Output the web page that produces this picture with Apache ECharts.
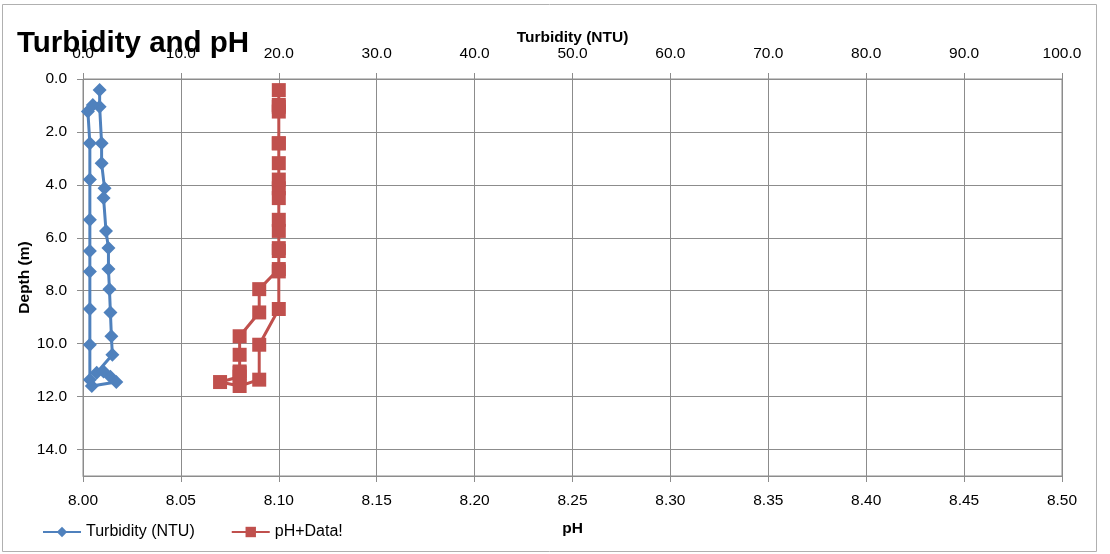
<!DOCTYPE html>
<html>
<head>
<meta charset="utf-8">
<script src="https://cdn.jsdelivr.net/npm/echarts@6/dist/echarts.min.js"></script>
<style>
html,body{margin:0;padding:0;background:#fff;}
#chart{width:1110px;height:554px;}
</style>
</head>
<body>
<div id="chart"></div>
<script>
// Data (row order as recorded: down-cast then up-cast)
const depth = [0.42, 1.05, 2.43, 3.18, 4.13, 4.5, 5.74, 6.39, 7.18, 7.94, 8.82, 9.72, 10.42, 11.1, 11.05, 11.25, 11.45, 11.6, 11.36, 10.04, 8.69, 7.27, 6.5, 5.32, 3.8, 2.43, 1.23, 0.98];
const turbidity = [1.7, 1.7, 1.9, 1.9, 2.2, 2.1, 2.35, 2.6, 2.6, 2.7, 2.8, 2.9, 3.0, 1.4, 2.1, 2.8, 3.4, 0.9, 0.7, 0.7, 0.7, 0.7, 0.7, 0.7, 0.7, 0.7, 0.5, 1.0];
const ph = [8.10, 8.10, 8.10, 8.10, 8.10, 8.10, 8.10, 8.10, 8.10, 8.09, 8.09, 8.08, 8.08, 8.08, 8.08, 8.08, 8.07, 8.08, 8.09, 8.09, 8.10, 8.10, 8.10, 8.10, 8.10, 8.10, 8.10, 8.10];

const titleText = 'Turbidity and pH';
const turbName = 'Turbidity (NTU)';
const phName = 'pH+Data!';
const phAxisName = 'pH';
const depthName = 'Depth (m)';

const FONT = '"Liberation Sans", Arial, sans-serif';
const gridColor = '#8c8c8c';

const chart = echarts.init(document.getElementById('chart'), null, {renderer: 'canvas'});
const lbl = {color: '#000', fontSize: 15.5, fontFamily: FONT};
const nameStyle = {fontFamily: FONT, fontWeight: 'bold', fontSize: 15.5, color: '#000'};

chart.setOption({
  animation: false,
  backgroundColor: '#fff',
  graphic: [{
    type: 'rect', shape: {x: 2.5, y: 4.5, width: 1094, height: 547},
    style: {fill: 'none', stroke: '#b0b0b0', lineWidth: 1}, z: -1
  }],
  title: {
    text: titleText, left: 12, top: 24, z: 10,
    textStyle: {fontFamily: FONT, fontWeight: 'bold', fontSize: 29.5, color: '#000'}
  },
  legend: {
    left: 37, top: 519, itemWidth: 38, itemHeight: 13, itemGap: 36,
    textStyle: {fontFamily: FONT, fontSize: 16, color: '#000'},
    data: [turbName, phName]
  },
  grid: {left: 83, right: 48, top: 79, bottom: 78, containLabel: false,
    show: true, borderColor: gridColor, borderWidth: 1},
  xAxis: [{
    type: 'value', position: 'top', min: 0, max: 100, interval: 10,
    name: turbName, nameLocation: 'middle', nameGap: 33, nameMoveOverlap: false,
    nameTextStyle: nameStyle,
    axisLine: {show: true, lineStyle: {color: gridColor}},
    axisTick: {show: true, length: 6, lineStyle: {color: gridColor}},
    axisLabel: Object.assign({margin: 17, formatter: v => v.toFixed(1)}, lbl),
    splitLine: {show: true, lineStyle: {color: gridColor, width: 1}}
  }, {
    type: 'value', position: 'bottom', min: 8.0, max: 8.5, interval: 0.05,
    name: phAxisName, nameLocation: 'middle', nameGap: 45, nameMoveOverlap: false,
    nameTextStyle: nameStyle,
    axisLine: {show: true, lineStyle: {color: gridColor}},
    axisTick: {show: true, length: 6, lineStyle: {color: gridColor}},
    axisLabel: Object.assign({margin: 17, formatter: v => v.toFixed(2)}, lbl),
    splitLine: {show: false}
  }],
  yAxis: {
    type: 'value', inverse: true, min: 0, max: 15, interval: 2,
    name: depthName, nameLocation: 'middle', nameGap: 50, nameMoveOverlap: false,
    nameTextStyle: nameStyle,
    axisLine: {show: true, lineStyle: {color: gridColor}},
    axisTick: {show: true, length: 6, lineStyle: {color: gridColor}},
    axisLabel: Object.assign({margin: 16, showMaxLabel: false,
      formatter: v => (v > 14.5 ? '' : v.toFixed(1))}, lbl),
    splitLine: {show: true, lineStyle: {color: gridColor, width: 1}}
  },
  series: [{
    name: turbName, type: 'line', xAxisIndex: 0, yAxisIndex: 0,
    data: depth.map((d, i) => [turbidity[i], d]),
    symbol: 'diamond', symbolSize: 14,
    lineStyle: {color: '#4f81bd', width: 3},
    itemStyle: {color: '#4f81bd'}
  }, {
    name: phName, type: 'line', xAxisIndex: 1, yAxisIndex: 0,
    data: depth.map((d, i) => [ph[i], d]),
    symbol: 'rect', symbolSize: 14,
    lineStyle: {color: '#c0504d', width: 3},
    itemStyle: {color: '#c0504d'}
  }]
});
</script>
</body>
</html>
